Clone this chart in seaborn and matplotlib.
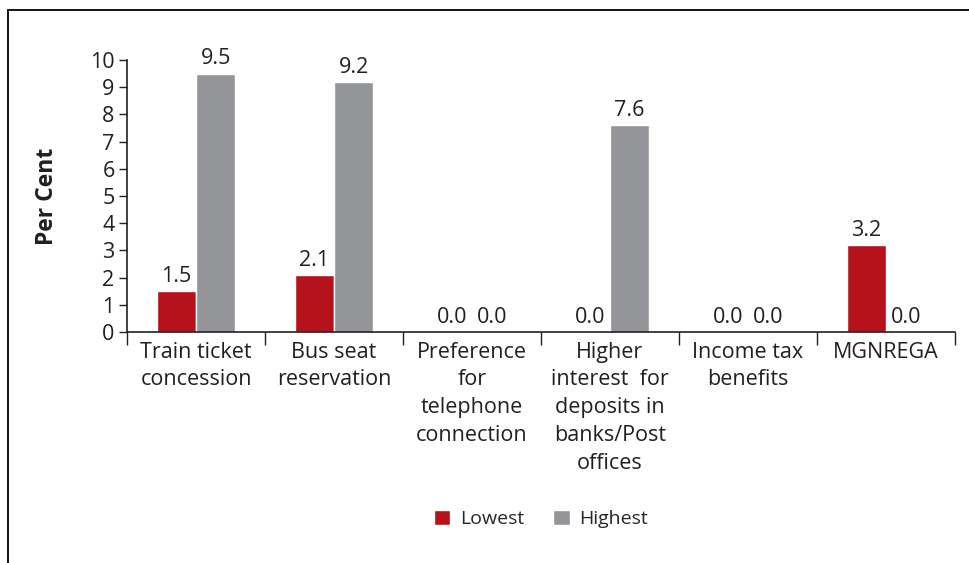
import pandas as pd
import matplotlib
matplotlib.use("Agg")
import matplotlib.pyplot as plt
import seaborn as sns
from matplotlib.lines import Line2D
from matplotlib.ticker import FixedLocator

categories = [
    "Train ticket\nconcession",
    "Bus seat\nreservation",
    "Preference\nfor\ntelephone\nconnection",
    "Higher\ninterest  for\ndeposits in\nbanks/Post\noffices",
    "Income tax\nbenefits",
    "MGNREGA",
]
lowest = [1.5, 2.1, 0.0, 0.0, 0.0, 3.2]
highest = [9.5, 9.2, 0.0, 7.6, 0.0, 0.0]
series = ["Lowest", "Highest"]
colors = ["#B5121B", "#939598"]

df = pd.DataFrame({
    "Category": categories * 2,
    "Value": lowest + highest,
    "Series": ["Lowest"] * len(categories) + ["Highest"] * len(categories),
})

sns.set_style("white")
plt.rcParams["font.family"] = ["Open Sans", "DejaVu Sans"]

fig = plt.figure(figsize=(9.69, 5.63), dpi=100)
ax = fig.add_axes([127 / 969, 1 - 332 / 563, (955 - 127) / 969, (332 - 60) / 563])

sns.barplot(data=df, x="Category", y="Value", hue="Series", hue_order=series,
            palette=colors, width=0.57, saturation=1, ax=ax, legend=True)

for cont in ax.containers:
    ax.bar_label(cont, fmt="%.1f", padding=3, fontsize=15.5, color="#231F20")

ax.set_ylim(0, 10)
ax.set_xlim(-0.5, len(categories) - 0.5)
ax.set_yticks(range(0, 11))
ax.tick_params(axis="y", direction="out", length=6, width=1, labelsize=15.5,
               left=True, pad=3, colors="#231F20")
ax.tick_params(axis="x", which="major", length=0, labelsize=15.5, pad=7,
               colors="#231F20")
ax.xaxis.set_minor_locator(FixedLocator([i - 0.5 for i in range(len(categories) + 1)]))
ax.tick_params(axis="x", which="minor", direction="out", length=9, width=1,
               bottom=True, color="#231F20")
for lbl in ax.get_xticklabels():
    lbl.set_linespacing(1.42)
    lbl.set_verticalalignment("top")

ax.set_xlabel("")
ax.set_ylabel("Per Cent", fontsize=16.5, fontweight="bold", labelpad=22, color="#231F20")

sns.despine(ax=ax)
for side in ["left", "bottom"]:
    ax.spines[side].set_color("#231F20")
    ax.spines[side].set_linewidth(1.2)

handles, labels = ax.get_legend_handles_labels()
ax.legend(handles, labels, loc="center", bbox_to_anchor=(541 / 969, 1 - 519 / 563),
          bbox_transform=fig.transFigure, ncol=2, frameon=False, fontsize=14,
          handlelength=0.85, handleheight=0.85, handletextpad=0.5, columnspacing=1.5)

# outer frame
fig.add_artist(Line2D([8 / 969, 8 / 969], [0, 1 - 10 / 563], transform=fig.transFigure,
                      color="black", linewidth=1.3))
fig.add_artist(Line2D([8 / 969, 1], [1 - 10 / 563, 1 - 10 / 563], transform=fig.transFigure,
                      color="black", linewidth=1.3))

fig.savefig("out.png", dpi=100)
